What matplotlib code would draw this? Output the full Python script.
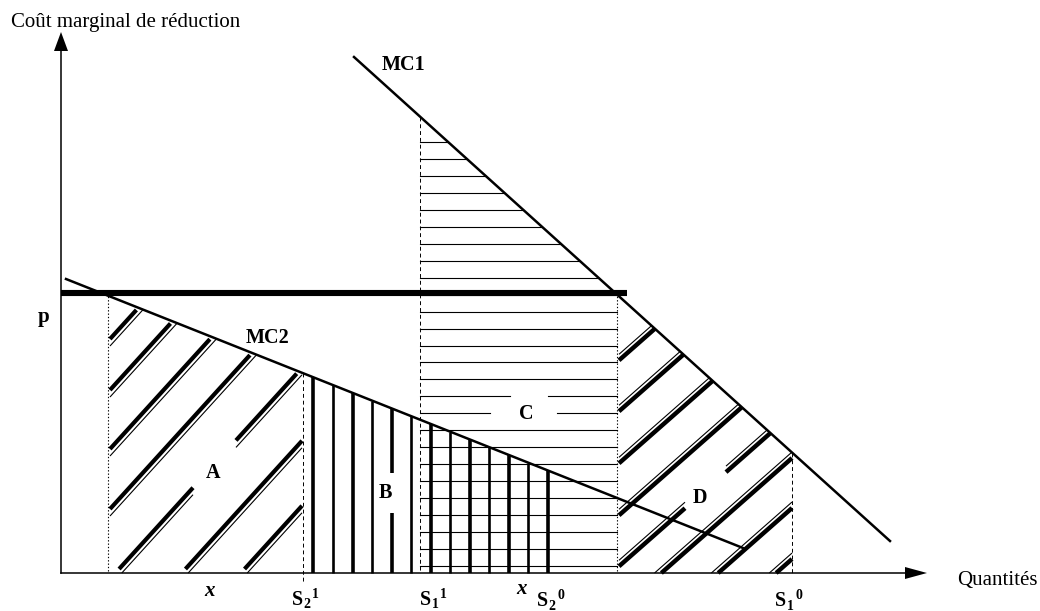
import matplotlib
matplotlib.use("Agg")
import matplotlib.pyplot as plt
import numpy as np

plt.rcParams['font.family'] = ['Liberation Serif', 'DejaVu Serif']

# diagram geometry, in picture pixels (y grows downward)
origin = (61, 573)
y_axis_top = 32
x_axis_end = 927
p_level = 293
p_line_end = 627
mc1_x = [354, 890]
mc1_y = [57, 541]
mc2_x = [66, 743]
mc2_y = [279, 548]

q_p2 = 108     # MC2 = p
s2_1 = 303
s1_1 = 420
s2_0 = 548
q_p1 = 617     # MC1 = p
s1_0 = 792

# hatching (intercepts of the diagonal strokes, y = c - k*x)
hatch_a = [460, 511, 570, 630, 700, 773, 838]
hatch_a_gap = {700: (193, 236)}
hatch_d = [905, 956, 1008, 1060, 1111, 1155, 1205, 1256]
hatch_d_gap = {1111: (685, 726)}
b_lines = [313, 333, 353, 372, 392, 411, 431, 450, 470, 489, 509, 528, 548]
c_first, c_step, c_count = 142, 16.96, 26
c_gaps = {15: (510, 548), 16: (490, 557)}

s_labels = [("2", "1", 292, 605), ("1", "1", 420, 605),
            ("2", "0", 537, 606), ("1", "0", 775, 606)]
x_labels = [(210, 591), (522, 589)]
area_labels = [("A", 213, 473), ("B", 385, 493), ("C", 526, 414), ("D", 700, 498)]


def mc1(x):
    return mc1_y[0] + (mc1_y[1] - mc1_y[0]) / (mc1_x[1] - mc1_x[0]) * (x - mc1_x[0])


def mc1_inv(y):
    return mc1_x[0] + (y - mc1_y[0]) * (mc1_x[1] - mc1_x[0]) / (mc1_y[1] - mc1_y[0])


def mc2(x):
    return mc2_y[0] + (mc2_y[1] - mc2_y[0]) / (mc2_x[1] - mc2_x[0]) * (x - mc2_x[0])


fig = plt.figure(figsize=(10.4, 6.11), dpi=100)
ax = fig.add_axes([0, 0, 1, 1])
ax.set_xlim(0, 1040)
ax.set_ylim(611, 0)
ax.axis('off')

ox, oy = origin
# axes with arrow heads
ax.plot([ox, ox], [oy, y_axis_top + 14], color='k', lw=1.1)
ax.fill([ox, ox - 7, ox + 7], [y_axis_top, y_axis_top + 19, y_axis_top + 19], color='k', lw=0)
ax.plot([ox, x_axis_end - 18], [oy, oy], color='k', lw=1.1)
ax.fill([x_axis_end, x_axis_end - 22, x_axis_end - 22], [oy, oy - 6, oy + 6], color='k', lw=0)

# region C : horizontal lines
for k in range(c_count):
    y = c_first + k * c_step
    if y <= mc1(s1_1):
        continue
    xr = min(q_p1, mc1_inv(y))
    if k in c_gaps:
        g0, g1 = c_gaps[k]
        ax.plot([s1_1, g0], [y, y], color='k', lw=0.8)
        ax.plot([g1, xr], [y, y], color='k', lw=0.8)
    else:
        ax.plot([s1_1, xr], [y, y], color='k', lw=0.8)

# region B : vertical lines
for i, x in enumerate(b_lines):
    w = 2.6 if i % 2 == 0 else 1.9
    top = mc2(x)
    if x == 392:
        ax.plot([x, x], [top, 473], color='k', lw=w, solid_capstyle='butt')
        ax.plot([x, x], [513, oy], color='k', lw=w, solid_capstyle='butt')
    else:
        ax.plot([x, x], [top, oy], color='k', lw=w, solid_capstyle='butt')


def stroke(c, k, x0, x1, gap, lw):
    if gap is None:
        segs = [(x0, x1)]
    else:
        segs = [(x0, gap[0]), (gap[1], x1)]
    for a, b in segs:
        xs = np.array([a, b])
        ax.plot(xs, c - k * xs, color='k', lw=lw, solid_capstyle='butt')


# region A : doubled diagonal strokes
ka = 1.1
slope2 = (mc2_y[1] - mc2_y[0]) / (mc2_x[1] - mc2_x[0])
for c in hatch_a:
    gap = hatch_a_gap.get(c)
    for cc, lw, bottom, trim in [(c, 3.0, 569, 2), (c + 7, 0.8, 573, 0)]:
        x0 = max(q_p2 + 2, (cc - bottom) / ka)
        xm = (cc - mc2_y[0] + slope2 * mc2_x[0]) / (ka + slope2) - trim
        x1 = min(s2_1 - 1, xm)
        if x1 > x0:
            stroke(cc, ka, x0, x1, gap, lw)

# region D : doubled diagonal strokes
kd = 0.88
slope1 = (mc1_y[1] - mc1_y[0]) / (mc1_x[1] - mc1_x[0])
for c in hatch_d:
    gap = hatch_d_gap.get(c)
    for cc, lw in [(c, 3.2), (c - 6, 0.8)]:
        x0 = max(q_p1 + 2, (cc - oy) / kd)
        xm = (cc - mc1_y[0] + slope1 * mc1_x[0]) / (kd + slope1)
        x1 = min(s1_0, xm)
        if x1 > x0:
            stroke(cc, kd, x0, x1, gap, lw)

# reference verticals
ax.plot([q_p2, q_p2], [p_level, oy], color='k', lw=0.8, ls=(0, (1.2, 1.8)))
ax.plot([q_p1, q_p1], [p_level, oy], color='k', lw=0.8, ls=(0, (1.2, 1.8)))
ax.plot([s2_1, s2_1], [mc2(s2_1), oy + 10], color='k', lw=0.7, ls=(0, (4, 3)))
ax.plot([s1_1, s1_1], [mc1(s1_1), oy], color='k', lw=0.7, ls=(0, (4, 3)))
ax.plot([s1_0, s1_0], [mc1(s1_0), oy], color='k', lw=0.7, ls=(0, (4, 3)))

# curves and price
ax.plot(mc1_x, mc1_y, color='k', lw=1.8)
ax.plot(mc2_x, mc2_y, color='k', lw=1.8)
ax.plot([ox, p_line_end], [p_level, p_level], color='k', lw=4.4, solid_capstyle='butt')

# texts
ax.text(11, 23, "Coût marginal de réduction", fontsize=15, va='center', ha='left')
ax.text(957, 581, "Quantités", fontsize=15, va='center', ha='left')
ax.text(404, 65, "MC1", fontsize=14.5, fontweight='bold', ha='center', va='center')
ax.text(268, 338, "MC2", fontsize=14.5, fontweight='bold', ha='center', va='center')
ax.text(44, 317, "p", fontsize=15, fontweight='bold', ha='center', va='center')
for t, x, y in area_labels:
    ax.text(x, y, t, fontsize=14.5, fontweight='bold', ha='center', va='center')
for x, y in x_labels:
    ax.text(x, y, "x", fontsize=15, fontweight='bold', style='italic', ha='center', va='center')
for sub, sup, x, y in s_labels:
    ax.text(x, y, "S", fontsize=14.5, fontweight='bold', ha='left', va='baseline')
    ax.text(x + 11.5, y + 3.5, sub, fontsize=10, fontweight='bold', ha='left', va='baseline')
    ax.text(x + 20, y - 7, sup, fontsize=10, fontweight='bold', ha='left', va='baseline')

fig.savefig("out.png", dpi=100)
